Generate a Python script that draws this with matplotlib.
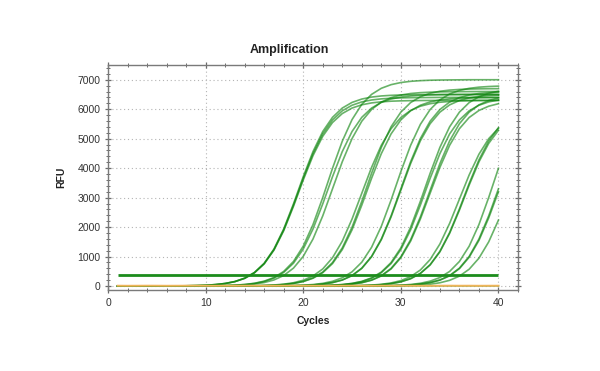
import matplotlib
matplotlib.use("Agg")
import matplotlib.pyplot as plt
from matplotlib.ticker import MultipleLocator

plt.rcParams['font.family'] = ['Liberation Sans', 'DejaVu Sans']

cycles = list(range(1, 41))

# RFU per cycle (baseline subtracted)
g1_a = [0, 0, 0, 0, 0, 3, 5, 9, 16, 28,
        49, 86, 150, 261, 447, 751, 1218, 1877, 2703, 3597,
        4423, 5082, 5549, 5853, 6039, 6150, 6214, 6251, 6272, 6284,
        6291, 6295, 6297, 6300, 6300, 6300, 6300, 6300, 6300, 6300]
g1_b = [0, 0, 0, 0, 0, 3, 5, 9, 16, 28,
        49, 87, 152, 265, 454, 763, 1237, 1907, 2746, 3654,
        4493, 5163, 5637, 5946, 6135, 6248, 6313, 6351, 6372, 6384,
        6391, 6395, 6397, 6400, 6400, 6400, 6400, 6400, 6400, 6400]
g1_c = [0, 0, 0, 0, 0, 3, 5, 9, 16, 29,
        50, 88, 155, 269, 462, 775, 1256, 1937, 2789, 3711,
        4563, 5244, 5725, 6039, 6231, 6345, 6412, 6450, 6471, 6484,
        6491, 6495, 6497, 6500, 6500, 6500, 6500, 6500, 6500, 6500]

g2_a = [0, 0, 0, 0, 0, 0, 0, 2, 3, 6,
        10, 18, 31, 54, 95, 167, 290, 497, 834, 1353,
        2086, 3004, 3996, 4914, 5647, 6166, 6503, 6710, 6833, 6905,
        6946, 6969, 6983, 6990, 6994, 6997, 7000, 7000, 7000, 7000]
g2_b = [0, 0, 0, 0, 0, 0, 0, 2, 3, 5,
        9, 16, 29, 50, 88, 155, 269, 462, 775, 1256,
        1937, 2789, 3711, 4563, 5244, 5725, 6039, 6231, 6345, 6412,
        6450, 6471, 6484, 6491, 6495, 6497, 6500, 6500, 6500, 6500]
g2_c = [0, 0, 0, 0, 0, 0, 0, 0, 2, 4,
        7, 13, 22, 38, 67, 119, 207, 358, 609, 1007,
        1596, 2382, 3300, 4218, 5004, 5593, 5991, 6242, 6393, 6481,
        6533, 6562, 6578, 6587, 6593, 6596, 6598, 6599, 6600, 6600]

g3_a = [0, 0, 0, 0, 0, 0, 0, 0, 0, 0,
        0, 0, 3, 5, 9, 16, 28, 49, 87, 152,
        265, 454, 763, 1237, 1907, 2746, 3654, 4493, 5163, 5637,
        5946, 6135, 6248, 6313, 6351, 6372, 6384, 6391, 6395, 6397]
g3_b = [0, 0, 0, 0, 0, 0, 0, 0, 0, 0,
        0, 0, 3, 5, 9, 17, 29, 52, 91, 159,
        277, 476, 799, 1295, 1997, 2875, 3825, 4704, 5405, 5901,
        6225, 6423, 6541, 6609, 6649, 6671, 6683, 6691, 6695, 6697]
g3_c = [0, 0, 0, 0, 0, 0, 0, 0, 0, 0,
        0, 2, 4, 6, 12, 21, 37, 64, 113, 198,
        342, 581, 961, 1523, 2274, 3150, 4026, 4777, 5339, 5719,
        5958, 6102, 6187, 6236, 6263, 6279, 6288, 6294, 6296, 6298]

g4_a = [0, 0, 0, 0, 0, 0, 0, 0, 0, 0,
        0, 0, 0, 0, 0, 3, 5, 10, 17, 30,
        52, 92, 162, 282, 483, 811, 1314, 2026, 2918, 3882,
        4774, 5486, 5989, 6317, 6518, 6638, 6708, 6748, 6770, 6783]
g4_b = [0, 0, 0, 0, 0, 0, 0, 0, 0, 0,
        0, 0, 0, 0, 0, 0, 4, 7, 13, 22,
        38, 67, 119, 207, 358, 609, 1007, 1596, 2382, 3300,
        4218, 5004, 5593, 5991, 6242, 6393, 6481, 6533, 6562, 6578]
g4_c = [0, 0, 0, 0, 0, 0, 0, 0, 0, 0,
        0, 0, 0, 0, 0, 0, 4, 7, 13, 22,
        37, 66, 117, 204, 353, 600, 992, 1572, 2346, 3250,
        4154, 4928, 5508, 5900, 6147, 6296, 6383, 6434, 6462, 6478]

g5_a = [0, 0, 0, 0, 0, 0, 0, 0, 0, 0,
        0, 0, 0, 0, 0, 0, 0, 0, 3, 5,
        9, 17, 29, 52, 91, 159, 277, 476, 799, 1295,
        1997, 2875, 3825, 4704, 5405, 5901, 6225, 6423, 6541, 6609]
g5_b = [0, 0, 0, 0, 0, 0, 0, 0, 0, 0,
        0, 0, 0, 0, 0, 0, 0, 0, 3, 5,
        9, 16, 28, 49, 87, 152, 265, 454, 763, 1237,
        1907, 2746, 3654, 4493, 5163, 5637, 5946, 6135, 6248, 6313]
g5_c = [0, 0, 0, 0, 0, 0, 0, 0, 0, 0,
        0, 0, 0, 0, 0, 0, 0, 0, 0, 4,
        7, 13, 22, 37, 66, 117, 204, 353, 600, 992,
        1572, 2346, 3250, 4154, 4928, 5508, 5900, 6147, 6296, 6383]
g5_d = [0, 0, 0, 0, 0, 0, 0, 0, 0, 0,
        0, 0, 0, 0, 0, 0, 0, 0, 2, 4,
        6, 12, 21, 37, 64, 113, 198, 342, 581, 961,
        1523, 2274, 3150, 4026, 4777, 5339, 5719, 5958, 6102, 6187]

g6_a = [0, 0, 0, 0, 0, 0, 0, 0, 0, 0,
        0, 0, 0, 0, 0, 0, 0, 0, 0, 0,
        0, 0, 3, 5, 8, 15, 26, 46, 82, 143,
        248, 426, 715, 1160, 1788, 2575, 3425, 4212, 4840, 5285]
g6_b = [0, 0, 0, 0, 0, 0, 0, 0, 0, 0,
        0, 0, 0, 0, 0, 0, 0, 0, 0, 0,
        0, 0, 3, 5, 9, 15, 27, 47, 83, 145,
        253, 433, 727, 1179, 1818, 2618, 3482, 4282, 4921, 5373]
g6_c = [0, 0, 0, 0, 0, 0, 0, 0, 0, 0,
        0, 0, 0, 0, 0, 0, 0, 0, 0, 0,
        0, 0, 4, 6, 11, 19, 34, 60, 106, 185,
        320, 545, 900, 1427, 2129, 2950, 3771, 4473, 5000, 5355]

g7_a = [0, 0, 0, 0, 0, 0, 0, 0, 0, 0,
        0, 0, 0, 0, 0, 0, 0, 0, 0, 0,
        0, 0, 0, 0, 0, 3, 6, 10, 18, 31,
        54, 95, 167, 290, 497, 834, 1353, 2086, 3004, 3996]
g7_b = [0, 0, 0, 0, 0, 0, 0, 0, 0, 0,
        0, 0, 0, 0, 0, 0, 0, 0, 0, 0,
        0, 0, 0, 0, 0, 0, 4, 7, 13, 22,
        38, 67, 119, 207, 358, 609, 1007, 1596, 2382, 3300]
g7_c = [0, 0, 0, 0, 0, 0, 0, 0, 0, 0,
        0, 0, 0, 0, 0, 0, 0, 0, 0, 0,
        0, 0, 0, 0, 0, 0, 4, 7, 13, 21,
        37, 65, 115, 201, 347, 591, 977, 1548, 2310, 3200]
g7_d = [0, 0, 0, 0, 0, 0, 0, 0, 0, 0,
        0, 0, 0, 0, 0, 0, 0, 0, 0, 0,
        0, 0, 0, 0, 0, 0, 2, 4, 6, 12,
        20, 36, 63, 112, 195, 337, 572, 946, 1499, 2238]

# negatives / NTC
neg_a = [4, 3, 5, 2, 4, 3, 1, 4, 5, 3,
         2, 4, 3, 5, 4, 2, 3, 4, 5, 3,
         4, 2, 3, 5, 4, 3, 2, 4, 3, 5,
         4, 3, 2, 4, 5, 3, 4, 2, 3, 4]
ntc = [12, 10, 11, 13, 12, 10, 11, 12, 13, 11,
       10, 12, 11, 13, 12, 10, 11, 12, 13, 11,
       12, 10, 11, 12, 13, 11, 10, 12, 11, 13,
       12, 11, 10, 12, 13, 11, 12, 10, 11, 12]

threshold = 360

curves = [g1_a, g1_b, g1_c, g2_a, g2_b, g2_c, g3_a, g3_b, g3_c,
          g4_a, g4_b, g4_c, g5_a, g5_b, g5_c, g5_d,
          g6_a, g6_b, g6_c, g7_a, g7_b, g7_c, g7_d]

fig = plt.figure(figsize=(6, 3.71), dpi=100)
ax = fig.add_axes([0.18, 0.217, 0.6833, 0.6078])

for c in curves:
    ax.plot(cycles, c, color='#0c840c', lw=1.2, alpha=0.62)
ax.plot(cycles, neg_a, color='#0c840c', lw=1.1, alpha=0.6)
ax.hlines(threshold, cycles[0], cycles[-1], color='#1c8c1c', lw=2)
ax.plot(cycles, ntc, color='#f0b45a', lw=1.4)

ax.set_xlim(0, 42)
ax.set_ylim(-150, 7500)
ax.xaxis.set_major_locator(MultipleLocator(10))
ax.xaxis.set_minor_locator(MultipleLocator(2))
ax.yaxis.set_major_locator(MultipleLocator(1000))
ax.yaxis.set_minor_locator(MultipleLocator(200))
ax.grid(True, which='major', color='#b4b4b4', lw=0.8, linestyle=(0, (1, 2.5)))

for s in ax.spines.values():
    s.set_color('#7a7a7a')
    s.set_linewidth(1.0)
ax.tick_params(which='both', direction='inout', top=True, right=True,
               color='#6a6a6a', labelsize=7.5, labelcolor='#333333')
ax.tick_params(which='major', length=5, width=0.9, pad=3)
ax.tick_params(which='minor', length=3, width=0.7)

fig.text(0.483, 0.865, 'Amplification', ha='center', va='center',
         fontsize=9, fontweight='bold', color='#222222')
ax.set_ylabel('RFU', fontsize=7.5, fontweight='bold', color='#222222', labelpad=8)
ax.set_xlabel('Cycles', fontsize=7.5, fontweight='bold', color='#222222', labelpad=6)

fig.savefig('out.png', dpi=100)
